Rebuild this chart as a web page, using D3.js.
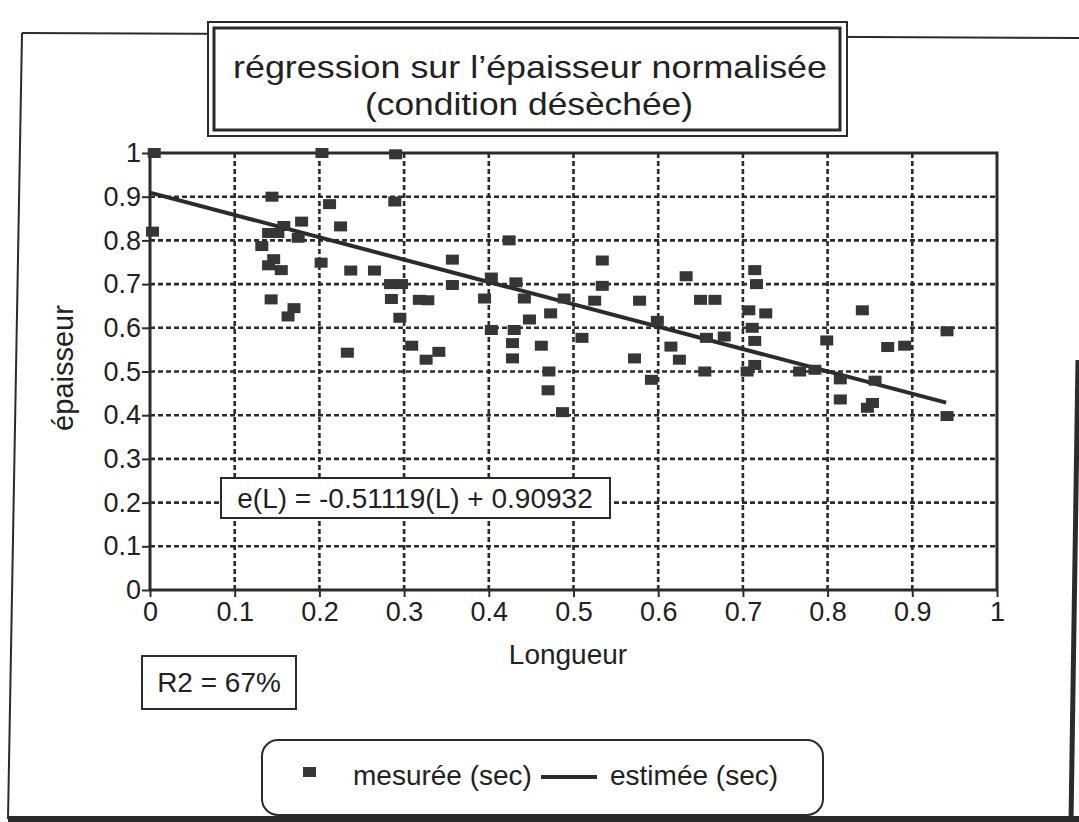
<!DOCTYPE html>
<html><head><meta charset="utf-8">
<script src="https://cdn.jsdelivr.net/npm/d3@7"></script>
<style>body{margin:0;background:#fff}svg{display:block}text{font-family:"Liberation Sans",Arial,sans-serif;fill:#222}</style>
</head><body>
<script>
// ---- data ----
const lengths = [0.005,0.003,0.144,0.158,0.179,0.140,0.151,0.175,0.132,0.146,0.140,0.155,0.143,0.170,0.163,
  0.203,0.212,0.225,0.202,0.237,0.265,0.290,0.289,0.284,0.297,0.285,0.318,0.295,
  0.424,0.357,0.534,0.633,0.403,0.432,0.357,0.534,0.328,0.395,0.442,0.525,0.578,0.489,0.650,0.667,0.473,0.448,0.599,
  0.714,0.716,0.707,0.727,0.841,0.711,0.657,0.678,0.714,0.799,0.941,0.871,0.891,0.655,0.714,0.705,0.767,0.785,
  0.815,0.856,0.815,0.853,0.847,0.941,0.403,0.430,0.510,0.428,0.462,0.326,0.341,0.428,0.572,0.615,0.625,0.471,
  0.592,0.470,0.487,0.309,0.233];
const thickness = [1.0,0.82,0.90,0.833,0.843,0.817,0.817,0.806,0.787,0.757,0.743,0.732,0.665,0.645,0.626,
  1.0,0.883,0.832,0.749,0.731,0.731,0.997,0.889,0.70,0.70,0.666,0.664,0.623,
  0.80,0.756,0.754,0.718,0.715,0.704,0.698,0.696,0.663,0.667,0.667,0.662,0.662,0.667,0.664,0.664,0.633,0.619,0.616,
  0.732,0.70,0.640,0.633,0.640,0.60,0.577,0.58,0.570,0.571,0.592,0.556,0.559,0.50,0.515,0.50,0.50,0.504,
  0.482,0.479,0.436,0.428,0.417,0.398,0.595,0.595,0.577,0.565,0.559,0.527,0.545,0.53,0.530,0.557,0.527,0.50,
  0.481,0.457,0.407,0.559,0.543];
const tickValues = [0,0.1,0.2,0.3,0.4,0.5,0.6,0.7,0.8,0.9,1];
const tickLabels = ["0","0.1","0.2","0.3","0.4","0.5","0.6","0.7","0.8","0.9","1"];
const slope = -0.51119, intercept = 0.90932;
const fitRange = [0, 0.94];
const titleLines = ["régression sur l’épaisseur normalisée","(condition désèchée)"];
const equationText = "e(L) = -0.51119(L) + 0.90932";
const r2Text = "R2 = 67%";
const legendLabels = ["mesurée (sec)","estimée (sec)"];

const W=1079,H=822, ink="#2b2b2b";
const svg=d3.select("body").append("svg").attr("width",W).attr("height",H);

// page border (scan frame)
svg.append("line").attr("x1",22).attr("y1",33).attr("x2",1079).attr("y2",38).attr("stroke",ink).attr("stroke-width",2);
svg.append("line").attr("x1",22).attr("y1",33).attr("x2",8).attr("y2",819).attr("stroke",ink).attr("stroke-width",2);
svg.append("line").attr("x1",8).attr("y1",819).attr("x2",1079).attr("y2",819).attr("stroke",ink).attr("stroke-width",6);
svg.append("line").attr("x1",1078).attr("y1",360).attr("x2",1071).attr("y2",822).attr("stroke",ink).attr("stroke-width",5);

// title box
svg.append("rect").attr("x",208).attr("y",22).attr("width",639).attr("height",114).attr("fill","#fff").attr("stroke",ink).attr("stroke-width",2);
svg.append("rect").attr("x",214).attr("y",28).attr("width",626).attr("height",102).attr("fill","none").attr("stroke",ink).attr("stroke-width",3);
svg.append("text").attr("x",530).attr("y",78).attr("text-anchor","middle").attr("font-size",32)
  .attr("textLength",594).attr("lengthAdjust","spacingAndGlyphs").text(titleLines[0]);
svg.append("text").attr("x",529).attr("y",115).attr("text-anchor","middle").attr("font-size",32)
  .attr("textLength",328).attr("lengthAdjust","spacingAndGlyphs").text(titleLines[1]);

// scales
const x=d3.scaleLinear().domain([0,1]).range([150,997]);
const y=d3.scaleLinear().domain([0,1]).range([590,153]);

// grid
const g=svg.append("g");
g.selectAll(".hg").data(tickValues.slice(1,10)).join("line")
  .attr("x1",x(0)).attr("x2",x(1)).attr("y1",d=>y(d)).attr("y2",d=>y(d))
  .attr("stroke",ink).attr("stroke-width",2.6).attr("stroke-dasharray","5,3");
g.selectAll(".vg").data(tickValues.slice(1,10)).join("line")
  .attr("y1",y(0)).attr("y2",y(1)).attr("x1",d=>x(d)).attr("x2",d=>x(d))
  .attr("stroke",ink).attr("stroke-width",2.6).attr("stroke-dasharray","5,3");
// frame top & right
svg.append("path").attr("d",`M${x(0)},${y(1)}H${x(1)}V${y(0)}`).attr("fill","none").attr("stroke",ink).attr("stroke-width",3);

// axes
const yAxis=d3.axisLeft(y).tickValues(tickValues).tickFormat((d,i)=>tickLabels[i]).tickSize(8).tickPadding(1);
const ya=svg.append("g").attr("transform",`translate(${x(0)},0)`).call(yAxis);
const xAxis=d3.axisBottom(x).tickValues(tickValues).tickFormat((d,i)=>tickLabels[i]).tickSize(7).tickPadding(5);
const xa=svg.append("g").attr("transform",`translate(0,${y(0)})`).call(xAxis);
[ya,xa].forEach(a=>{a.select(".domain").attr("stroke",ink).attr("stroke-width",3);
  a.selectAll(".tick line").attr("stroke",ink).attr("stroke-width",2);
  a.selectAll("text").attr("font-size",27).attr("font-family","Liberation Sans, Arial, sans-serif").attr("fill","#222");});
ya.select(".domain").attr("d",`M0,${y(0)}V${y(1)}`);
xa.select(".domain").attr("d",`M${x(0)},0H${x(1)}`);

// axis titles
svg.append("text").attr("transform","translate(73,368) rotate(-90)").attr("text-anchor","middle").attr("font-size",29).text("épaisseur");
svg.append("text").attr("x",568).attr("y",664).attr("text-anchor","middle").attr("font-size",28).text("Longueur");

// regression line
const line=d3.line().x(d=>x(d)).y(d=>y(intercept+slope*d));
svg.append("path").datum(fitRange).attr("d",line).attr("fill","none").attr("stroke",ink).attr("stroke-width",4);

// points
svg.append("g").selectAll("rect").data(lengths.map((l,i)=>[l,thickness[i]])).join("rect")
  .attr("x",d=>x(d[0])-6.5).attr("y",d=>y(d[1])-5).attr("width",13).attr("height",10).attr("fill","#363636");

// equation box
svg.append("rect").attr("x",221).attr("y",478).attr("width",389).attr("height",40).attr("fill","#fff").attr("stroke",ink).attr("stroke-width",2);
svg.append("text").attr("x",415).attr("y",508).attr("text-anchor","middle").attr("font-size",28).text(equationText);

// R2 box
svg.append("rect").attr("x",142).attr("y",656).attr("width",154).attr("height",53).attr("fill","#fff").attr("stroke",ink).attr("stroke-width",2);
svg.append("text").attr("x",219).attr("y",692).attr("text-anchor","middle").attr("font-size",28).text(r2Text);

// legend
svg.append("rect").attr("x",262).attr("y",740).attr("width",561).attr("height",75).attr("rx",16).attr("fill","#fff").attr("stroke",ink).attr("stroke-width",2);
svg.append("rect").attr("x",303).attr("y",767).attr("width",13).attr("height",10).attr("fill","#363636");
svg.append("text").attr("x",353).attr("y",785).attr("font-size",28).text(legendLabels[0]);
svg.append("line").attr("x1",541).attr("x2",597).attr("y1",777).attr("y2",777).attr("stroke",ink).attr("stroke-width",4);
svg.append("text").attr("x",610).attr("y",785).attr("font-size",28).text(legendLabels[1]);
</script>
</body></html>
